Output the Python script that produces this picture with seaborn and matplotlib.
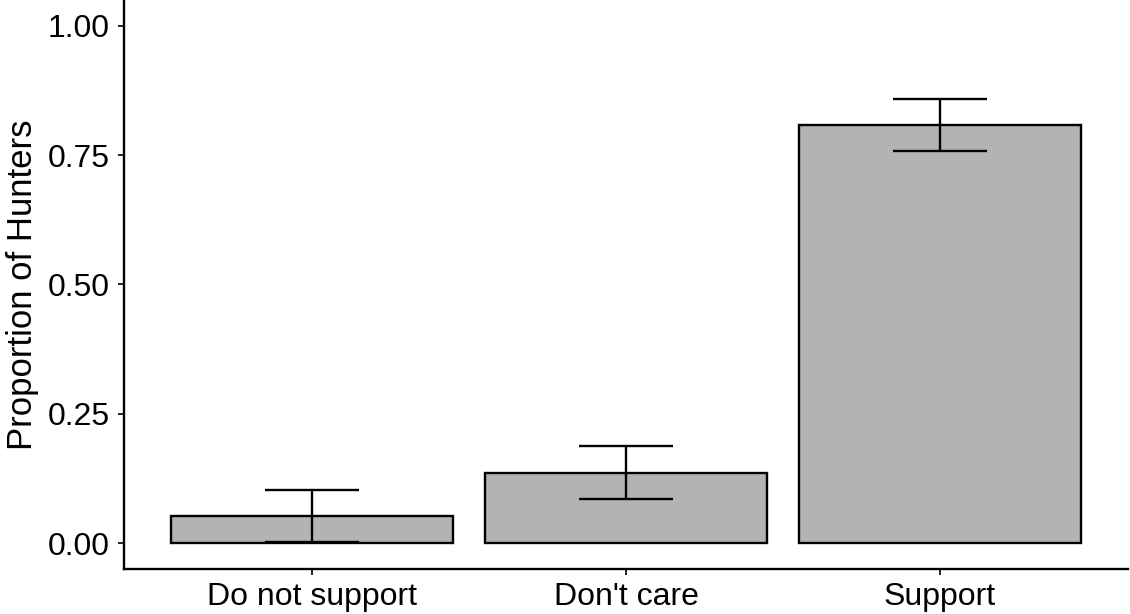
import matplotlib
matplotlib.use("Agg")
import matplotlib.pyplot as plt
import seaborn as sns
import pandas as pd
import numpy as np

categories = ["Do not support", "Don't care", "Support"]
proportions = [0.052, 0.136, 0.809]
err_lower = [0.002, 0.086, 0.759]
err_upper = [0.102, 0.187, 0.859]
y_ticks = [0.00, 0.25, 0.50, 0.75, 1.00]
y_tick_labels = ["0.00", "0.25", "0.50", "0.75", "1.00"]

sns.set_theme(style="white")
plt.rcParams['font.family'] = ['Liberation Sans', 'DejaVu Sans']

df = pd.DataFrame({"cat": categories, "prop": proportions})

fig = plt.figure(figsize=(11.3, 6.14), dpi=100)
ax = fig.add_axes([0.1097, 0.0733, 0.8885, 0.9267])

sns.barplot(data=df, x="cat", y="prop", order=categories, color="#b3b3b3",
            saturation=1, width=0.9, edgecolor="black", linewidth=1.7,
            errorbar=None, ax=ax)

xpos = np.arange(len(categories))
props = np.array(proportions)
yerr = np.vstack([props - np.array(err_lower), np.array(err_upper) - props])
ax.errorbar(xpos, props, yerr=yerr, fmt="none", ecolor="black",
            elinewidth=1.7, capsize=33.5, capthick=1.7, zorder=5)

ax.set_xlim(-0.6, 2.6)
ax.set_ylim(-0.05, 1.05)
ax.set_yticks(y_ticks)
ax.set_yticklabels(y_tick_labels)
ax.set_xlabel("")
ax.set_ylabel("Proportion of Hunters", fontsize=25, color="black", labelpad=6)

for s in ["top", "right"]:
    ax.spines[s].set_visible(False)
for s in ["left", "bottom"]:
    ax.spines[s].set_color("black")
    ax.spines[s].set_linewidth(1.7)

ax.tick_params(axis="both", which="major", length=4.5, width=1.2,
               color="black", labelsize=23, labelcolor="black", pad=6,
               left=True, bottom=True)
ax.tick_params(axis="x", pad=5)

fig.savefig("out.png", dpi=100)
